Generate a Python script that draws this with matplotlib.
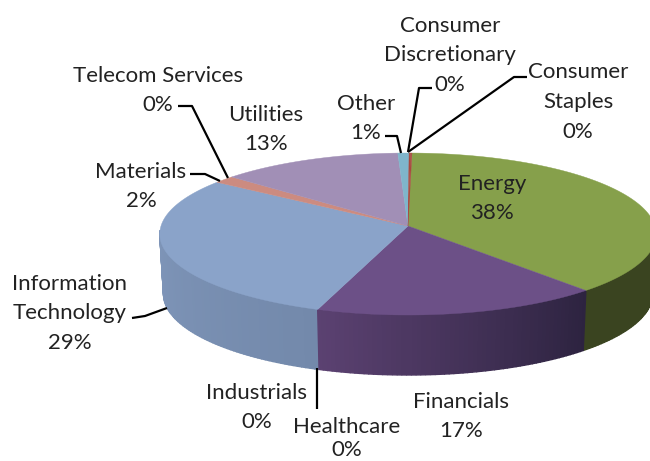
import numpy as np
import matplotlib
matplotlib.use("Agg")
import matplotlib.pyplot as plt

sectors = ["Energy", "Financials", "Healthcare", "Industrials", "Information\nTechnology", "Materials",
           "Telecom Services", "Utilities", "Other", "Consumer\nDiscretionary", "Consumer\nStaples"]
values = [38.1, 17.0, 0.0, 0.0, 29.4, 1.5, 0.0, 13.0, 0.8, 0.1, 0.1]
percent_labels = ["38%", "17%", "0%", "0%", "29%", "2%", "0%", "13%", "1%", "0%", "0%"]
colors = ["#86A04B", "#6C5087", "#6C5087", "#6C5087", "#8AA3C9", "#CC8B80", "#CC8B80", "#A18FB6", "#7FB5CB", "#A8493F", "#A8493F"]
side_start = ["#3C4621", "#2D2340", "#2D2340", "#2D2340", "#7389AB", "#B57A70", "#B57A70", "#8E7DA2", "#6D9DB2", "#8E3D35", "#8E3D35"]
side_end = ["#3A4420", "#5C4272", "#5C4272", "#5C4272", "#869DC1", "#B57A70", "#B57A70", "#8E7DA2", "#6D9DB2", "#8E3D35", "#8E3D35"]

# label centres in pixels: x, y of first line
label_pos = {"Energy": (492, 182), "Financials": (461, 400), "Healthcare": (347, 425), "Industrials": (257, 391),
             "Information\nTechnology": (70, 282), "Materials": (141, 170), "Telecom Services": (158, 74),
             "Utilities": (266, 113), "Other": (366, 102), "Consumer\nDiscretionary": (450, 24),
             "Consumer\nStaples": (578, 71)}

leaders = [[(432, 88), (419, 88), (408, 152)],
           [(527, 77), (514, 77), (408, 152)],
           [(385, 136), (397, 136), (401, 153)],
           [(178, 106), (192, 106), (228, 178)],
           [(190, 174), (205, 174), (220, 181)],
           [(132, 318), (145, 316), (167, 308)],
           [(317, 368), (317, 409)]]

# pie geometry, perspective projection of a circle
cx, cy = 408, 226
f, g, k = 247, 80.2, 0.0988
depth = 60
start_deg = 1.0


def project(theta):
    X = np.sin(theta)
    Y = -np.cos(theta)
    s = 1 / (1 - k * Y)
    return cx + f * X * s, cy + g * Y * s


def mix(c1, c2, t):
    a = np.array(matplotlib.colors.to_rgb(c1))
    b = np.array(matplotlib.colors.to_rgb(c2))
    return a + (b - a) * t


fig = plt.figure(figsize=(6.5, 4.61), dpi=100)
ax = fig.add_axes([0, 0, 1, 1])
ax.set_xlim(0, 650)
ax.set_ylim(461, 0)
ax.axis("off")

edges = np.radians(start_deg + np.concatenate([[0], np.cumsum(values)]) * 3.6)

# side wall, back quads first
quads = []
for i in range(len(values)):
    if values[i] == 0:
        continue
    n = max(2, int(np.degrees(edges[i + 1] - edges[i])))
    th = np.linspace(edges[i], edges[i + 1], n + 1)
    for j in range(n):
        t1, t2 = th[j], th[j + 1]
        mid = -np.cos((t1 + t2) / 2)
        if mid < 0.05:
            continue
        x1, y1 = project(t1)
        x2, y2 = project(t2)
        xb1 = cx + (x1 - cx) * 0.985
        xb2 = cx + (x2 - cx) * 0.985
        col = mix(side_start[i], side_end[i], j / n)
        quads.append((mid, [x1, x2, xb2, xb1], [y1, y2, y2 + depth, y1 + depth], col))
quads.sort(key=lambda q: q[0])
for q in quads:
    ax.fill(q[1], q[2], color=q[3], lw=1.0, zorder=1)

# top face
for i in range(len(values)):
    if values[i] == 0:
        continue
    th = np.linspace(edges[i], edges[i + 1], 200)
    x, y = project(th)
    ax.fill(np.r_[cx, x], np.r_[cy, y], color=colors[i], lw=0.3, zorder=2)

for pts in leaders:
    ax.plot([p[0] for p in pts], [p[1] for p in pts], color="black", lw=1.6, zorder=3, solid_capstyle="butt")

# labels, one line at a time
for i in range(len(sectors)):
    x, y = label_pos[sectors[i]]
    # Healthcare sits on the bottom edge, so its lines are closer together
    step = 23.5 if sectors[i] == "Healthcare" else 29.6
    lines = (sectors[i] + "\n" + percent_labels[i]).split("\n")
    for n, line in enumerate(lines):
        ax.text(x, y + 7.5 + n * step, line, ha="center", va="baseline", fontsize=16, family="Lato",
                color="#222222", zorder=4)

fig.savefig("out.png", dpi=100)
